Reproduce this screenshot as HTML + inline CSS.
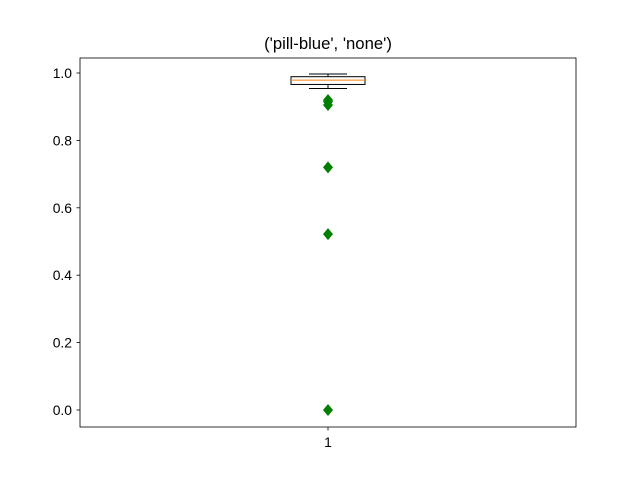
<!DOCTYPE html>
<html><head><meta charset="utf-8"><style>body{margin:0;background:#fff}svg{display:block;font-family:"Liberation Sans","DejaVu Sans",sans-serif}</style></head>
<body>
<svg id="chart" width="640" height="480">
<rect width="640" height="480" fill="#fff"/>
<text x="328" y="49" font-size="16.7" text-anchor="middle">('pill-blue', 'none')</text>
<g id="plot"></g>
<rect x="80" y="58" width="496" height="369" fill="none" stroke="#000" stroke-width="0.8"/>
</svg>
<script>
const yTicks=[0,0.2,0.4,0.6,0.8,1.0];
const tickLabels=['0.0','0.2','0.4','0.6','0.8','1.0'];
const categories=['1'];
const whiskerLow=[0.954];
const q1=[0.966];
const median=[0.979];
const q3=[0.989];
const whiskerHigh=[0.997];
const fliers=[0.92,0.915,0.905,0.72,0.522,0.0];
const ns='http://www.w3.org/2000/svg';
const g=document.getElementById('plot');
const y=v=>410-v*337;
const x=i=>328;
function mk(t,a){const e=document.createElementNS(ns,t);for(const k in a)e.setAttribute(k,a[k]);g.appendChild(e);return e;}
yTicks.forEach((v,i)=>{
 const l=mk('line',{x1:76.5,x2:80,y1:y(v),y2:y(v),stroke:'#000','stroke-width':0.8});
 
 
 const t=mk('text',{x:72,y:y(v)+5,'font-size':13.9,'text-anchor':'end'});t.textContent=tickLabels[i];
 
 
});
categories.forEach((c,i)=>{
 const cx=x(i);
 const tk=mk('line',{x1:cx,x2:cx,y1:427,y2:430.5,stroke:'#000','stroke-width':0.8});
 
 
 const t=mk('text',{x:cx,y:447,'font-size':13.9,'text-anchor':'middle'});t.textContent=c;
 
 
 const w1=mk('line',{x1:cx,x2:cx,y1:y(q3[i]),y2:y(whiskerHigh[i]),stroke:'#000'});
 
 
 const w2=mk('line',{x1:cx,x2:cx,y1:y(q1[i]),y2:y(whiskerLow[i]),stroke:'#000'});
 
 
 const c1=mk('line',{x1:cx-19,x2:cx+19,y1:y(whiskerHigh[i]),y2:y(whiskerHigh[i]),stroke:'#000'});
 
 
 const c2=mk('line',{x1:cx-19,x2:cx+19,y1:y(whiskerLow[i]),y2:y(whiskerLow[i]),stroke:'#000'});
 
 
 const b=mk('rect',{x:cx-37,y:y(q3[i]),width:74,height:y(q1[i])-y(q3[i]),fill:'none',stroke:'#000'});
 
 
 const m=mk('line',{x1:cx-37,x2:cx+37,y1:y(median[i]),y2:y(median[i]),stroke:'#ff7f0e'});
 
 
 fliers.forEach(v=>{
  const yy=y(v);
  const p=mk('polygon',{points:`${cx},${yy-6} ${cx+5},${yy} ${cx},${yy+6} ${cx-5},${yy}`,fill:'#008000'});
  
  
 });
});
</script>
</body></html>
